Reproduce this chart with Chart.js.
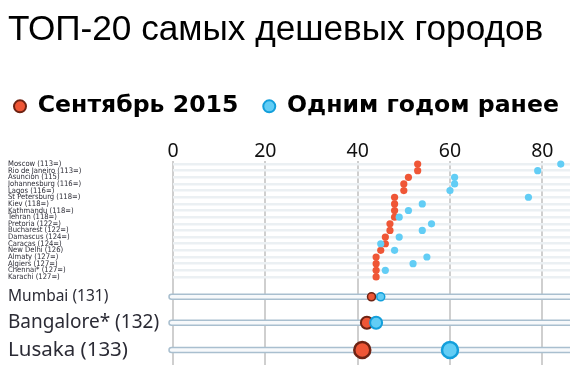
<!DOCTYPE html>
<html>
<head>
<meta charset="utf-8">
<script src="https://cdn.jsdelivr.net/npm/chart.js@4.4.1/dist/chart.umd.min.js"></script>
<style>
html, body { margin: 0; padding: 0; background: #fff; }
#wrap { position: relative; width: 570px; height: 378px; }
</style>
</head>
<body>
<div id="wrap"><canvas id="cheapChart"></canvas></div>
<script>
// cheapest cities: Sept 2015 vs one year earlier

const cities = [
    "Moscow (113=)", "Rio de Janeiro (113=)", "Asuncion (115)", "Johannesburg (116=)",
    "Lagos (116=)", "St Petersburg (118=)", "Kiev (118=)", "Kathmandu (118=)",
    "Tehran (118=)", "Pretoria (122=)", "Bucharest (122=)", "Damascus (124=)",
    "Caracas (124=)", "New Delhi (126)", "Almaty (127=)", "Algiers (127=)",
    "Chennai* (127=)", "Karachi (127=)",
    "Mumbai (131)", "Bangalore* (132)", "Lusaka (133)"
];
const sept2015 = [53, 53, 51, 50, 50, 48, 48, 48, 48, 47, 47, 46, 46, 45, 44, 44, 44, 44, 43, 42, 41];
const yearEarlier = [84, 79, 61, 61, 60, 77, 54, 51, 49, 56, 54, 49, 45, 48, 55, 52, 46, null, 45, 44, 60];
const xTicks = [0, 20, 40, 60, 80];

const RED = "#ef5636", RED_EDGE = "#6e2313";
const BLUE = "#62cdf5", BLUE_EDGE = "#139fdb";

// first 18 rows are packed tight, last three are spread out
const SMALL_ROWS = 18;
const bigRowPos = [21, 24.9, 29];
function rowPos(i) {
    return i < SMALL_ROWS ? i + 1 : bigRowPos[i - SMALL_ROWS];
}
const rowValues = cities.map((c, i) => rowPos(i));

function toPoints(values) {
    return values.map((v, i) => ({ x: v, y: rowPos(i) }));
}

const dotRadius = [4, 6, 8];
const dotBorder = [1.5, 2, 2.5];

function radiusFor(ctx) {
    const i = ctx.dataIndex;
    return i < SMALL_ROWS ? 3.6 : dotRadius[i - SMALL_ROWS];
}
function borderFor(ctx) {
    const i = ctx.dataIndex;
    return i < SMALL_ROWS ? 0 : dotBorder[i - SMALL_ROWS];
}

// light rails behind the last three cities
const railPlugin = {
    id: "rails",
    beforeDatasetsDraw(chart) {
        const { ctx, chartArea, scales } = chart;
        const x0 = scales.x.getPixelForValue(0) - 4;
        const x1 = chartArea.right + 5;
        ctx.save();
        for (let i = SMALL_ROWS; i < cities.length; i++) {
            const y = scales.y.getPixelForValue(rowPos(i));
            const h = 5;
            ctx.beginPath();
            ctx.moveTo(x1, y - h / 2);
            ctx.lineTo(x0 + h / 2, y - h / 2);
            ctx.arc(x0 + h / 2, y, h / 2, -Math.PI / 2, Math.PI / 2, true);
            ctx.lineTo(x1, y + h / 2);
            ctx.fillStyle = "#f7f9fb";
            ctx.fill();
            ctx.strokeStyle = "#a9bfcf";
            ctx.lineWidth = 1.5;
            ctx.stroke();
        }
        ctx.restore();
    }
};

new Chart(document.getElementById("cheapChart"), {
    type: "scatter",
    data: {
        datasets: [
            {
                label: "Сентябрь 2015",
                data: toPoints(sept2015),
                backgroundColor: RED,
                borderColor: RED_EDGE,
                pointRadius: radiusFor,
                pointBorderWidth: borderFor,
                clip: false,
                order: 2
            },
            {
                label: "Одним годом ранее",
                data: toPoints(yearEarlier),
                backgroundColor: BLUE,
                borderColor: BLUE_EDGE,
                pointRadius: radiusFor,
                pointBorderWidth: borderFor,
                clip: false,
                order: 1
            }
        ]
    },
    plugins: [railPlugin],
    options: {
        responsive: true,
        maintainAspectRatio: false,
        animation: false,
        events: [],
        layout: {
            autoPadding: false,
            padding: { left: 8, right: 0, top: 0, bottom: 13 }
        },
        plugins: {
            title: {
                display: true,
                text: "ТОП-20 самых дешевых городов",
                align: "start",
                color: "#000",
                font: { family: "'Liberation Sans', Arial, sans-serif", size: 35.2, weight: "normal" },
                padding: { top: 9, bottom: 37.3 }
            },
            legend: {
                position: "top",
                align: "start",
                labels: {
                    usePointStyle: true,
                    pointStyle: "circle",
                    boxWidth: 12,
                    boxHeight: 8.5,
                    padding: 6,
                    color: "#000",
                    font: { family: "'DejaVu Sans', sans-serif", size: 23.6, weight: "bold" },
                    sort: (a, b) => a.datasetIndex - b.datasetIndex,
                    generateLabels(chart) {
                        const items = Chart.defaults.plugins.legend.labels.generateLabels(chart);
                        items.forEach(it => {
                            const red = it.datasetIndex === 0;
                            it.fillStyle = red ? RED : BLUE;
                            it.strokeStyle = red ? RED_EDGE : BLUE_EDGE;
                            it.lineWidth = 2;
                            if (red) it.text = it.text + "\u2002\u2009\u200a";
                        });
                        return items;
                    }
                }
            },
            tooltip: { enabled: false }
        },
        scales: {
            x: {
                type: "linear",
                position: "top",
                min: 0,
                max: 86,
                afterBuildTicks(scale) {
                    scale.ticks = xTicks.map(v => ({ value: v }));
                },
                // empty title just keeps a gap between legend and tick labels
                title: {
                    display: true,
                    text: " ",
                    font: { size: 10, lineHeight: 1.25 },
                    padding: { top: 1, bottom: 1 }
                },
                border: { display: false },
                grid: {
                    color: "#cfcfcf",
                    lineWidth: 2,
                    drawTicks: false
                },
                ticks: {
                    color: "#111",
                    padding: -2.5,
                    font: { family: "'Noto Sans', sans-serif", size: 19.5, lineHeight: 1.2 }
                }
            },
            y: {
                type: "linear",
                reverse: true,
                min: 0.55,
                max: 31.26,
                afterBuildTicks(scale) {
                    scale.ticks = rowValues.map(v => ({ value: v }));
                },
                afterFit(scale) {
                    scale.width = 165;
                },
                border: { display: false },
                grid: {
                    color: ctx => ctx.index < SMALL_ROWS ? "#ebf0f3" : "rgba(0,0,0,0)",
                    lineWidth: 2.5,
                    drawTicks: false
                },
                ticks: {
                    crossAlign: "far",
                    color: "#2b2b35",
                    padding: 0,
                    autoSkip: false,
                    callback: (value, index) => cities[index],
                    font: ctx => {
                        const i = ctx.index;
                        if (i < SMALL_ROWS) return { family: "'DejaVu Sans Condensed', 'Noto Sans', sans-serif", size: 7.6, lineHeight: 1 };
                        return { family: "'Noto Sans', sans-serif", size: [15.5, 19, 20.5][i - SMALL_ROWS] };
                    }
                }
            }
        }
    }
});
</script>
</body>
</html>
